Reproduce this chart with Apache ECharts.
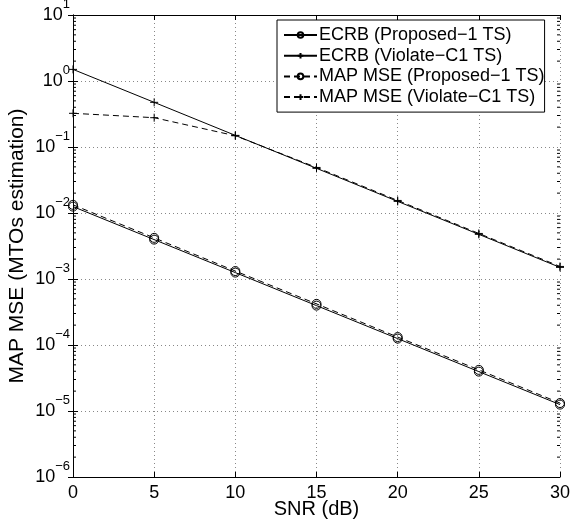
<!DOCTYPE html>
<html>
<head>
<meta charset="utf-8">
<script src="https://cdn.jsdelivr.net/npm/echarts@6/dist/echarts.min.js"></script>
<style>html,body{margin:0;padding:0;background:#fff}#c{width:571px;height:523px}</style>
</head>
<body>
<div id="c"></div>
<script>
var snr = [0, 5, 10, 15, 20, 25, 30];
var ecrbProposed = [1.25e-2, 3.95e-3, 1.25e-3, 3.95e-4, 1.25e-4, 3.95e-5, 1.25e-5];
var ecrbViolate = [1.5, 0.475, 0.15, 0.0475, 0.015, 0.00475, 0.0015];
var mapProposed = [1.33e-2, 4.2e-3, 1.32e-3, 4.2e-4, 1.32e-4, 4.2e-5, 1.32e-5];
var mapViolate = [0.324, 0.278, 0.148, 0.049, 0.0155, 0.0049, 0.00155];
var seriesNames = ['ECRB (Proposed\u22121 TS)', 'ECRB (Violate\u2212C1 TS)', 'MAP MSE (Proposed\u22121 TS)', 'MAP MSE (Violate\u2212C1 TS)'];
var xTicks = [0, 5, 10, 15, 20, 25, 30];
var yMin = 1e-6, yMax = 10;

var FONT = 'Liberation Sans, Arial, Helvetica, sans-serif';
var plusPath = 'path://M5,0L5,10M0,5L10,5';

function pairs(ys) { return snr.map(function (x, i) { return [x, ys[i]]; }); }

var minorVals = [];
for (var e = -6; e < 1; e++) for (var k = 2; k <= 9; k++) minorVals.push([0, k * Math.pow(10, e)]);

function mkSeries(name, data, symbol, dashed, size) {
  return {
    name: name, type: 'line', data: pairs(data),
    symbol: symbol, symbolSize: size, showSymbol: true,
    lineStyle: { color: '#000', width: 1, type: dashed ? [6, 4] : 'solid' },
    itemStyle: { color: 'rgba(0,0,0,0)', borderColor: '#000', borderWidth: 1 },
    emphasis: { disabled: true }, animation: false, z: 5
  };
}

var chart = echarts.init(document.getElementById('c'), null, { renderer: 'canvas' });
chart.setOption({
  backgroundColor: '#fff',
  animation: false,
  textStyle: { fontFamily: FONT },
  grid: { left: 73, right: 11, top: 15, bottom: 46, containLabel: false, outerBoundsMode: 'none' },
  legend: {
    data: seriesNames,
    orient: 'vertical', left: 277, top: 20,
    backgroundColor: '#fff', borderColor: '#000', borderWidth: 1,
    padding: [6, 0, 6, 6], itemGap: 2.7, itemWidth: 33, itemHeight: 7,
    textStyle: { fontFamily: FONT, fontSize: 18, lineHeight: 18, color: '#000', padding: [0, 0, 0, -3] },
    selectedMode: false
  },
  xAxis: [{
    type: 'value', min: 0, max: 30, interval: 5,
    name: 'SNR (dB)', nameLocation: 'middle', nameGap: 22, nameMoveOverlap: false,
    nameTextStyle: { fontFamily: FONT, fontSize: 20, color: '#000' },
    axisLine: { lineStyle: { color: '#000', width: 1 } },
    axisTick: { inside: true, length: 5, lineStyle: { color: '#000' } },
    axisLabel: { fontFamily: FONT, fontSize: 18, color: '#000', margin: 7 },
    splitLine: { show: true, lineStyle: { color: '#888', type: [1, 3], width: 1 } }
  }, {
    type: 'value', min: 0, max: 30, interval: 5, position: 'top',
    axisLine: { show: true, lineStyle: { color: '#000', width: 1 } },
    axisTick: { inside: true, length: 5, lineStyle: { color: '#000' } },
    axisLabel: { show: false }, splitLine: { show: false }
  }],
  yAxis: [{
    type: 'log', logBase: 10, min: yMin, max: yMax, interval: 1,
    name: 'MAP MSE (MTOs estimation)', nameLocation: 'middle', nameGap: 45, nameMoveOverlap: false,
    nameTextStyle: { fontFamily: FONT, fontSize: 21, color: '#000' },
    axisLine: { show: true, lineStyle: { color: '#000', width: 1 } },
    axisTick: { inside: true, length: 5, lineStyle: { color: '#000' } },
    axisLabel: {
      margin: 3, color: '#000',
      formatter: function (v) {
        var ex = Math.round(Math.log10(v));
        return '{b|10}{s|' + (ex < 0 ? '\u2212' + (-ex) : ex) + '}';
      },
      rich: {
        b: { fontFamily: FONT, fontSize: 18, color: '#000', padding: [0, 0, 0, 0] },
        s: { fontFamily: FONT, fontSize: 13, color: '#000', padding: [0, 0, 21, 0] }
      }
    },
    splitLine: { show: true, lineStyle: { color: '#888', type: [1, 3], width: 1 } }
  }, {
    type: 'log', logBase: 10, min: yMin, max: yMax, interval: 1, position: 'right',
    axisLine: { show: true, lineStyle: { color: '#000', width: 1 } },
    axisTick: { inside: true, length: 5, lineStyle: { color: '#000' } },
    axisLabel: { show: false }, splitLine: { show: false }
  }],
  series: [
    mkSeries(seriesNames[0], ecrbProposed, 'circle', false, 9),
    mkSeries(seriesNames[1], ecrbViolate, plusPath, false, 8),
    mkSeries(seriesNames[2], mapProposed, 'circle', true, 9),
    mkSeries(seriesNames[3], mapViolate, plusPath, true, 8),
    {
      type: 'custom', silent: true, z: 3, animation: false,
      data: minorVals,
      renderItem: function (params, api) {
        var v = api.value(1);
        var l = api.coord([0, v]);
        var r = api.coord([30, v]);
        return {
          type: 'group', children: [
            { type: 'line', shape: { x1: l[0], y1: l[1], x2: l[0] + 3, y2: l[1] }, style: { stroke: '#000', lineWidth: 1 } },
            { type: 'line', shape: { x1: r[0], y1: r[1], x2: r[0] - 3, y2: r[1] }, style: { stroke: '#000', lineWidth: 1 } }
          ]
        };
      }
    }
  ]
});
</script>
</body>
</html>
